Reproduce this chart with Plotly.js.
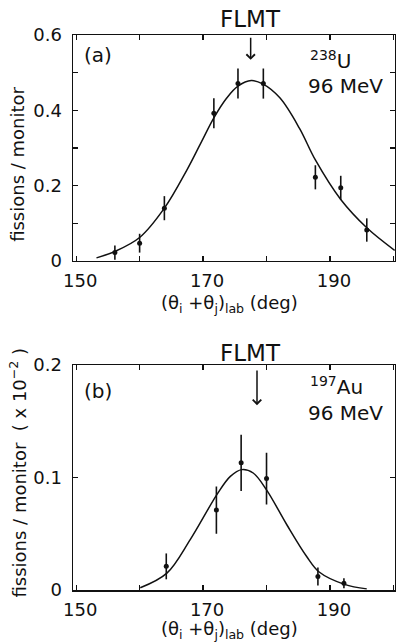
<!DOCTYPE html>
<html>
<head>
<meta charset="utf-8">
<script src="https://cdn.plot.ly/plotly-3.0.1.min.js"></script>
<style>html,body{margin:0;padding:0;background:#fff;}#chart{width:396px;height:644px;}</style>
</head>
<body>
<div id="chart"></div>
<script>
// ---- Panel (a): 238U, 96 MeV ----
const anglesA = [156.1, 160.0, 163.9, 171.7, 175.5, 179.5, 187.7, 191.7, 195.8];
const fissionsA = [0.022, 0.047, 0.140, 0.392, 0.471, 0.471, 0.222, 0.194, 0.082];
const errorsA = [0.019, 0.025, 0.032, 0.040, 0.040, 0.040, 0.032, 0.032, 0.031];
const fitAnglesA = [153.2, 156.1, 160.0, 163.9, 167.4, 169.7, 171.7, 173.7, 175.5, 177.6, 179.4, 182.1, 185.2, 187.7, 191.7, 195.8, 200.2];
const fitValuesA = [0.008, 0.025, 0.062, 0.140, 0.240, 0.315, 0.380, 0.432, 0.464, 0.479, 0.470, 0.433, 0.352, 0.268, 0.163, 0.088, 0.028];

// ---- Panel (b): 197Au, 96 MeV (x10^-2) ----
const anglesB = [164.2, 172.1, 176.0, 180.0, 188.1, 192.2];
const fissionsB = [0.021, 0.071, 0.113, 0.099, 0.012, 0.006];
const errorsB = [0.0115, 0.021, 0.025, 0.023, 0.008, 0.0045];
const fitAnglesB = [160.1, 164.3, 168.0, 172.2, 174.3, 176.1, 177.9, 180.0, 183.2, 186.3, 188.3, 192.3, 195.8];
const fitValuesB = [0.002, 0.015, 0.045, 0.085, 0.101, 0.107, 0.104, 0.089, 0.058, 0.030, 0.016, 0.005, 0.001];

// ---- Ticks ----
const xTickVals = [150, 170, 190];
const xTickText = ['150', '170', '190'];
const xMinorVals = [160, 180, 200];
const yTickValsA = [0, 0.2, 0.4, 0.6];
const yTickTextA = ['0', '0.2', '0.4', '0.6'];
const yMinorValsA = [0.1, 0.3, 0.5];
const yTickValsB = [0, 0.1, 0.2];
const yTickTextB = ['0', '0.1', '0.2'];

const FONT = 'DejaVu Sans, Arial, sans-serif';
const INK = '#111';

const traces = [
  {x: fitAnglesA, y: fitValuesA, xaxis: 'x', yaxis: 'y', mode: 'lines',
   line: {color: INK, width: 1.5, shape: 'spline'}, hoverinfo: 'skip'},
  {x: anglesA, y: fissionsA, xaxis: 'x', yaxis: 'y', mode: 'markers',
   marker: {color: INK, size: 5},
   error_y: {type: 'data', array: errorsA, visible: true, color: INK, thickness: 1.6, width: 0}},
  {x: fitAnglesB, y: fitValuesB, xaxis: 'x2', yaxis: 'y2', mode: 'lines',
   line: {color: INK, width: 1.5, shape: 'spline'}, hoverinfo: 'skip'},
  {x: anglesB, y: fissionsB, xaxis: 'x2', yaxis: 'y2', mode: 'markers',
   marker: {color: INK, size: 5},
   error_y: {type: 'data', array: errorsB, visible: true, color: INK, thickness: 1.6, width: 0}}
];

const axisCommon = {
  showline: true, linecolor: INK, linewidth: 1.5, mirror: 'ticks',
  ticks: 'inside', ticklen: 5, tickwidth: 1.3, tickcolor: INK,
  showgrid: false, zeroline: false,
  tickfont: {family: FONT, size: 18, color: INK}
};
const minorCommon = {ticks: 'inside', ticklen: 5, tickwidth: 1.3, tickcolor: INK, showgrid: false};

const xA = Object.assign({}, axisCommon, {range: [149.5, 200.25], tickmode: 'array', tickvals: xTickVals, ticktext: xTickText,
  minor: Object.assign({tickmode: 'array', tickvals: xMinorVals}, minorCommon), anchor: 'y', domain: [0, 1], ticklabelstandoff: 3, ticklabelshift: 4});
const xB = Object.assign({}, axisCommon, {range: [149.5, 200.25], tickmode: 'array', tickvals: xTickVals, ticktext: xTickText,
  minor: Object.assign({tickmode: 'array', tickvals: xMinorVals}, minorCommon), anchor: 'y2', domain: [0, 1], ticklabelstandoff: 3, ticklabelshift: 4});
const yA = Object.assign({}, axisCommon, {range: [0, 0.6], tickmode: 'array', tickvals: yTickValsA, ticktext: yTickTextA,
  minor: Object.assign({tickmode: 'array', tickvals: yMinorValsA}, minorCommon), anchor: 'x', domain: [0.593, 1], ticklabelstandoff: 6});
const yB = Object.assign({}, axisCommon, {range: [0, 0.2], tickmode: 'array', tickvals: yTickValsB, ticktext: yTickTextB,
  anchor: 'x2', domain: [0, 0.4054], ticklabelstandoff: 6});

function txt(text, x, y, xref, yref, size, xanchor, extra) {
  return Object.assign({text: text, x: x, y: y, xref: xref, yref: yref, showarrow: false,
    xanchor: xanchor || 'center', yanchor: 'middle',
    font: {family: FONT, size: size, color: INK}}, extra || {});
}
function arrow(x, yHead, yTail, xref, yref) {
  return {text: '', x: x, y: yHead, ax: x, ay: yTail, xref: xref, yref: yref, axref: xref, ayref: yref,
    showarrow: true, arrowhead: 4, arrowsize: 1.1, arrowwidth: 1.5, arrowcolor: INK};
}

const xTitle = '(θ<sub>i</sub> +θ<sub>j</sub>)<sub>lab</sub> (deg)';

const annotations = [
  // panel a
  txt('FLMT', 0.5523, 1.071, 'x domain', 'y domain', 23),
  arrow(177.5, 0.534, 0.597, 'x', 'y'),
  txt('(a)', 153.5, 0.547, 'x', 'y', 20),
  txt('<sup>238</sup>U', 186.5, 0.534, 'x', 'y', 20, 'left'),
  txt('96 MeV', 186.3, 0.465, 'x', 'y', 20, 'left'),
  txt('fissions / monitor', 0, 0.766, 'paper', 'paper', 18, 'center', {xshift: -55, textangle: -90}),
  txt(xTitle, 0.4845, 0.515, 'paper', 'paper', 18),
  // panel b
  txt('FLMT', 0.5523, 1.055, 'x2 domain', 'y2 domain', 23),
  arrow(178.5, 0.1642, 0.1965, 'x2', 'y2'),
  txt('(b)', 153.4, 0.1765, 'x2', 'y2', 20),
  txt('<sup>197</sup>Au', 186.5, 0.1814, 'x2', 'y2', 20, 'left'),
  txt('96 MeV', 186.3, 0.1575, 'x2', 'y2', 20, 'left'),
  txt('fissions / monitor  ( x 10<sup>−2</sup> )', 0, 0.2117, 'paper', 'paper', 18, 'center', {xshift: -55, textangle: -90}),
  txt(xTitle, 0.4845, -0.072, 'paper', 'paper', 18)
];

const layout = {
  width: 396, height: 644,
  margin: {l: 73, r: 1, t: 35, b: 54},
  paper_bgcolor: '#fff', plot_bgcolor: '#fff',
  showlegend: false,
  font: {family: FONT, color: INK},
  xaxis: xA, yaxis: yA, xaxis2: xB, yaxis2: yB,
  annotations: annotations
};

Plotly.newPlot('chart', traces, layout, {staticPlot: true, displayModeBar: false});
</script>
</body>
</html>
